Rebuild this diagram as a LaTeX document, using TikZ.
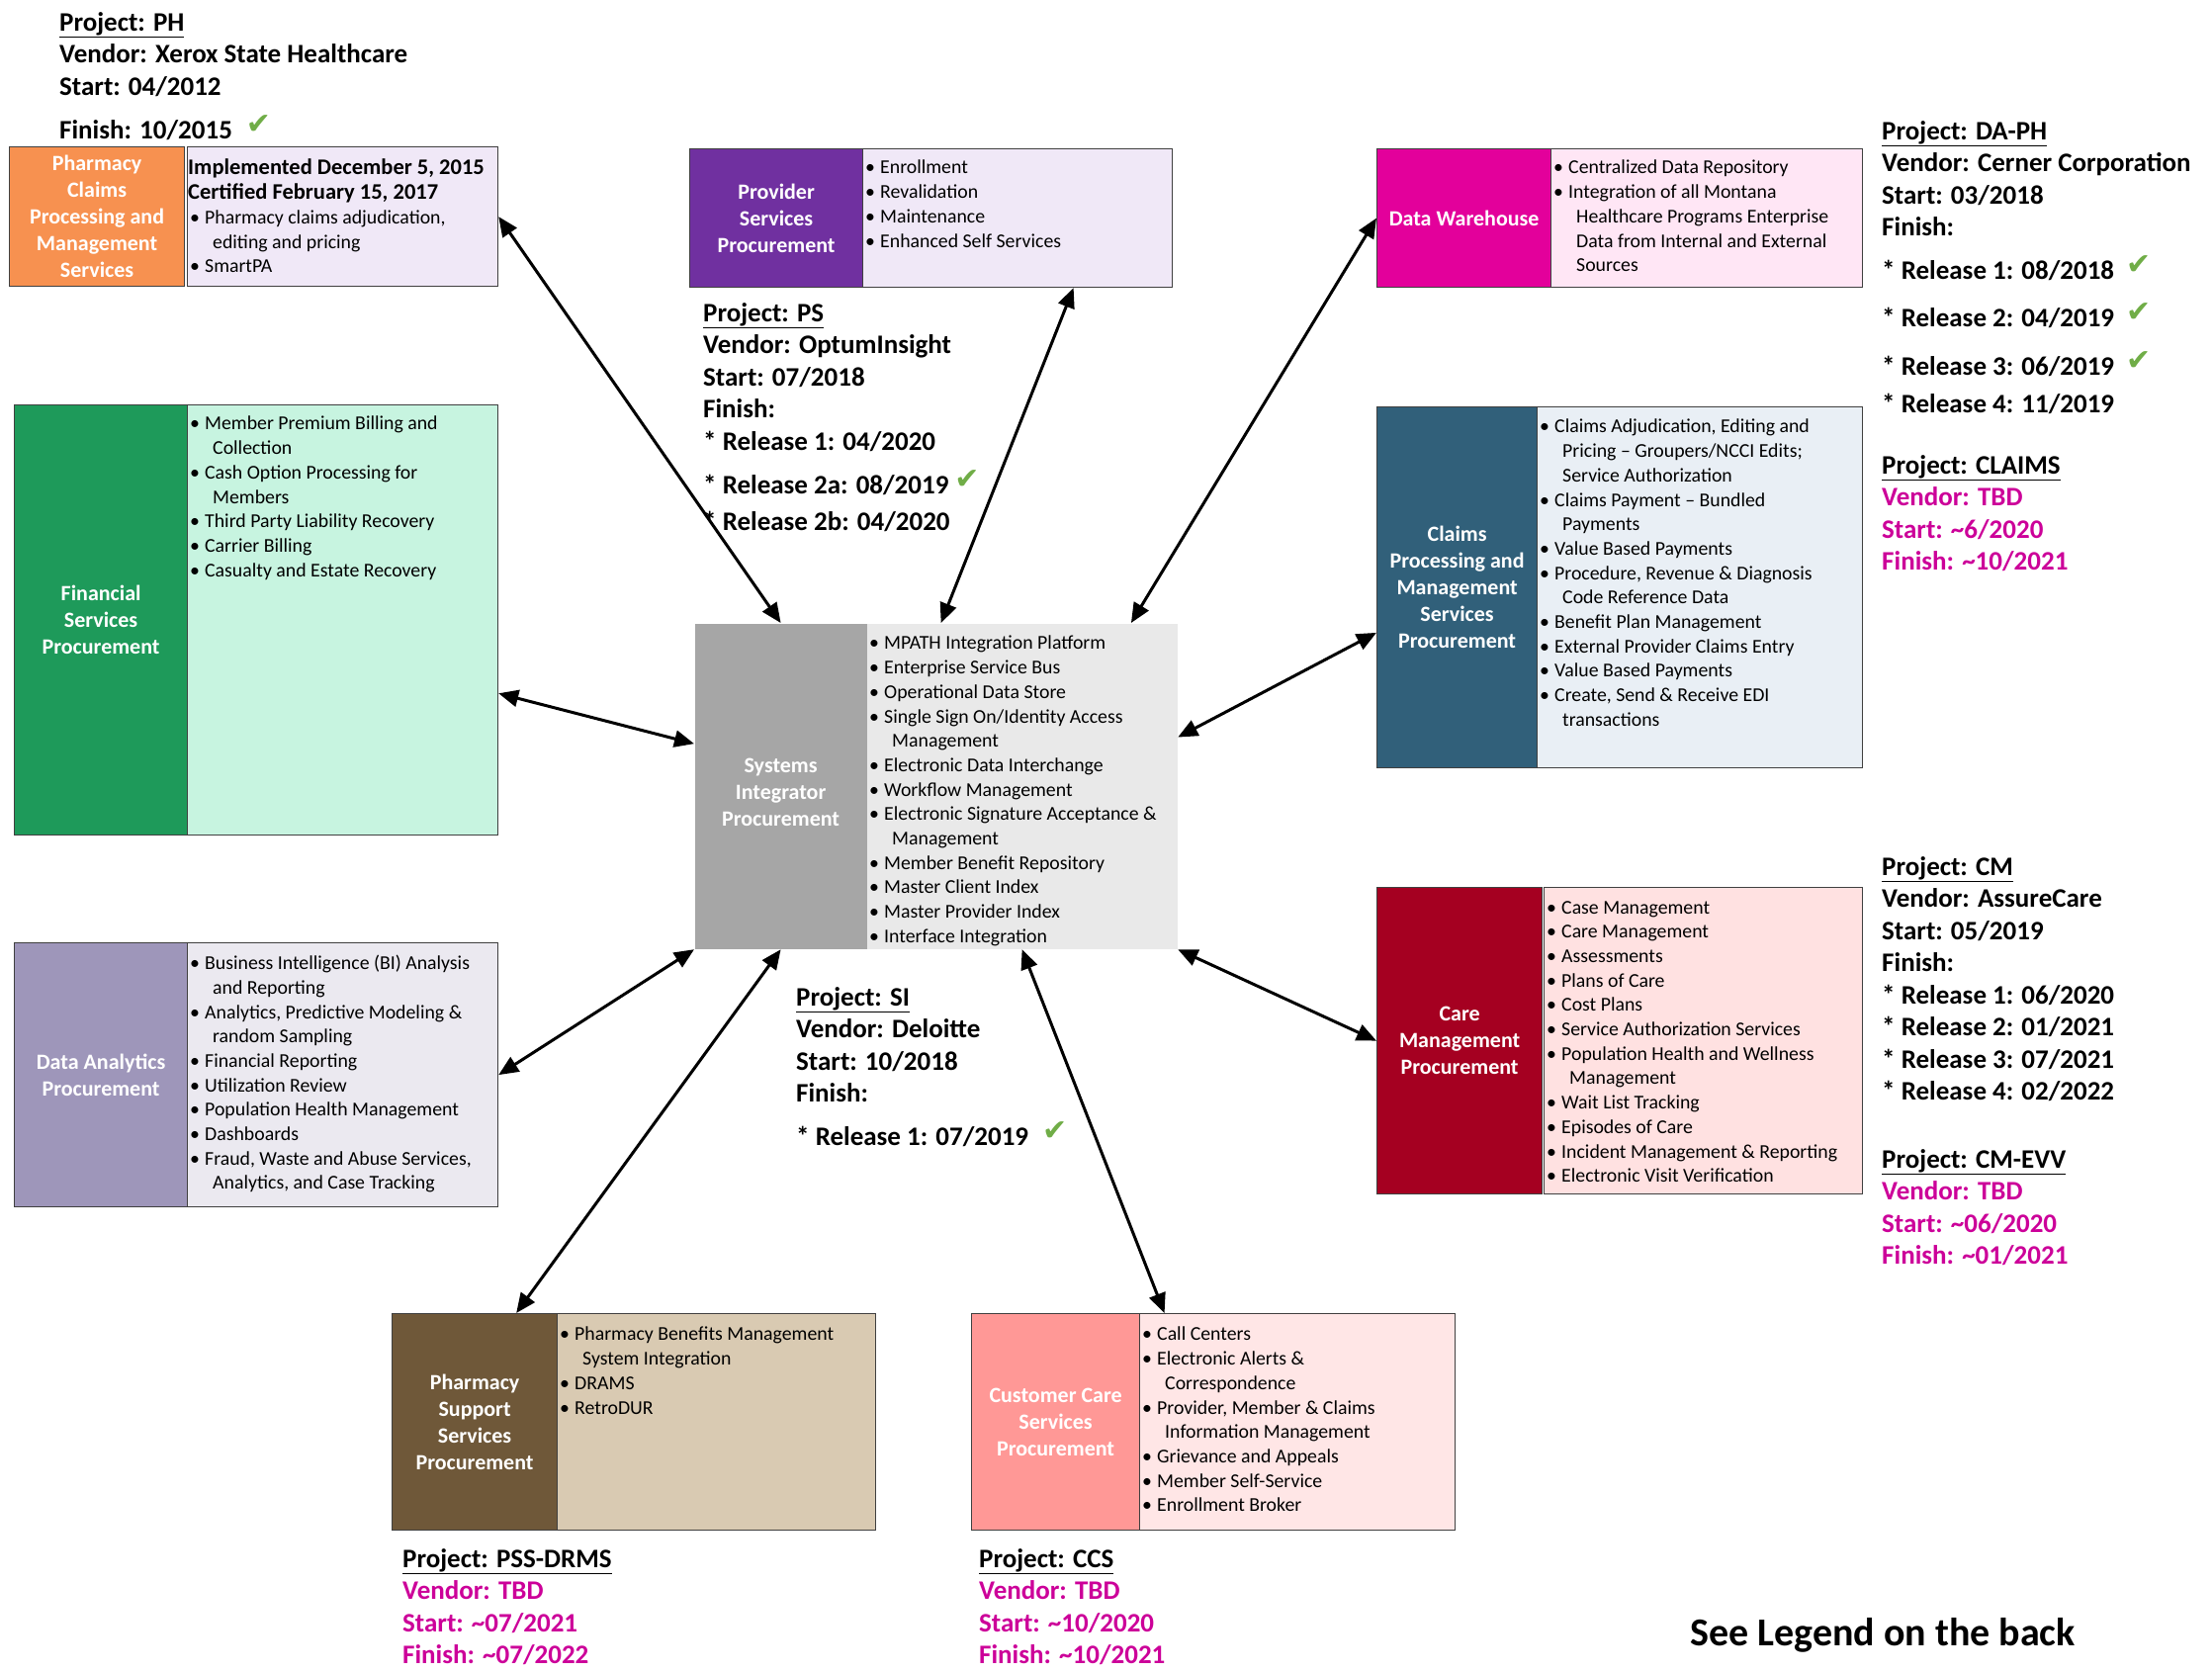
\documentclass[tikz,border=0pt]{standalone}
\usepackage{fontspec}
\setmainfont{Carlito}
\newfontfamily\checkfont{DejaVu Sans}
\usetikzlibrary{arrows.meta,calc}

% box colours (dark heading / light body)
\definecolor{phdark}{HTML}{F79150}
\definecolor{phlight}{HTML}{F0E8F7}
\definecolor{psdark}{HTML}{7030A0}
\definecolor{pslight}{HTML}{F0E8F7}
\definecolor{dwdark}{HTML}{E3009B}
\definecolor{dwlight}{HTML}{FFE6F5}
\definecolor{fsdark}{HTML}{1E9A5A}
\definecolor{fslight}{HTML}{C7F4E0}
\definecolor{sidark}{HTML}{A6A6A6}
\definecolor{silight}{HTML}{E9E9E9}
\definecolor{cldark}{HTML}{31607A}
\definecolor{cllight}{HTML}{E9EFF5}
\definecolor{cmdark}{HTML}{A50021}
\definecolor{cmlight}{HTML}{FFE1E1}
\definecolor{dadark}{HTML}{9E96BA}
\definecolor{dalight}{HTML}{EBE9F0}
\definecolor{pssdark}{HTML}{6F5839}
\definecolor{psslight}{HTML}{D9CAB2}
\definecolor{ccsdark}{HTML}{FF9896}
\definecolor{ccslight}{HTML}{FFE6E6}
\definecolor{tbd}{HTML}{CC0099}
\definecolor{okgreen}{HTML}{70AD47}

\newcommand{\listfont}{\fontsize{19.8}{24.7}\selectfont}
\newcommand{\titlefont}{\fontsize{22}{27}\selectfont\bfseries}
\newcommand{\projfont}{\fontsize{27}{32.5}\selectfont\bfseries}
\newcommand{\itm}[1]{\makebox[17pt][l]{\hspace{2pt}\textbullet}#1}
\newcommand{\cont}[1]{\makebox[25pt]{}#1}
\newcommand{\done}{\smash{\raisebox{5pt}{\fontsize{30}{30}\checkfont\color{okgreen}\symbol{"2714}}}}

\tikzset{
  head/.style={draw=black!75, line width=1.2pt, text=white, font=\titlefont,
    align=center, anchor=north west, inner sep=2pt},
  body/.style={draw=black!75, line width=1.2pt, anchor=north west},
  items/.style={anchor=north west, inner sep=0pt, align=left, font=\listfont},
  project/.style={anchor=north west, inner sep=0pt, align=left, font=\projfont},
  link/.style={{Triangle[length=20pt,width=17pt]}-{Triangle[length=20pt,width=17pt]},
    line width=3pt},
}

\begin{document}
\begin{tikzpicture}[x=1pt,y=-1pt]
  \useasboundingbox (0,0) rectangle (2237,1691);

  % Boxes
  \node[head, fill=phdark, minimum width=177pt, minimum height=141pt] (phH) at (9,148)
    {Pharmacy\\Claims\\Processing and\\Management\\Services};
  \node[body, fill=phlight, minimum width=314pt, minimum height=141pt] (phB) at (189,148) {};
  \node[head, fill=psdark, minimum width=175pt, minimum height=140pt] (psH) at (697,150)
    {Provider\\Services\\Procurement};
  \node[body, fill=pslight, minimum width=313pt, minimum height=140pt] (psB) at (872,150) {};
  \node[head, fill=dwdark, minimum width=176pt, minimum height=140pt] (dwH) at (1392,150)
    {Data Warehouse};
  \node[body, fill=dwlight, minimum width=315pt, minimum height=140pt] (dwB) at (1568,150) {};
  \node[head, fill=fsdark, minimum width=175pt, minimum height=435pt] (fsH) at (14,409)
    {Financial\\Services\\Procurement};
  \node[body, fill=fslight, minimum width=314pt, minimum height=435pt] (fsB) at (189,409) {};
  \node[head, draw=none, fill=sidark, minimum width=174pt, minimum height=329pt] (siH) at (702,630)
    {\mbox{}\\[-1pt]Systems\\Integrator\\Procurement};
  \node[body, draw=none, fill=silight, minimum width=314pt, minimum height=329pt] (siB) at (876,630) {};
  \node[head, fill=cldark, minimum width=162pt, minimum height=365pt] (clH) at (1392,411)
    {Claims\\Processing and\\Management\\Services\\Procurement};
  \node[body, fill=cllight, minimum width=329pt, minimum height=365pt] (clB) at (1554,411) {};
  \node[head, fill=cmdark, minimum width=167pt, minimum height=310pt] (cmH) at (1392,897)
    {Care\\Management\\Procurement};
  \node[body, fill=cmlight, minimum width=322pt, minimum height=310pt] (cmB) at (1561,897) {};
  \node[head, fill=dadark, minimum width=175pt, minimum height=267pt] (daH) at (14,953)
    {Data Analytics\\Procurement};
  \node[body, fill=dalight, minimum width=314pt, minimum height=267pt] (daB) at (189,953) {};
  \node[head, fill=pssdark, minimum width=167pt, minimum height=219pt] (pssH) at (396,1328)
    {Pharmacy\\Support\\Services\\Procurement};
  \node[body, fill=psslight, minimum width=322pt, minimum height=219pt] (pssB) at (563,1328) {};
  \node[head, fill=ccsdark, minimum width=170pt, minimum height=219pt] (ccsH) at (982,1328)
    {Customer Care\\Services\\Procurement};
  \node[body, fill=ccslight, minimum width=319pt, minimum height=219pt] (ccsB) at (1152,1328) {};

  % Lists
  \node[items] (phI) at ($(phB.north west)+(1,13)$)
    {{\fontsize{22.5}{27}\selectfont\bfseries Implemented December 5, 2015}\\
     {\fontsize{22.5}{27}\selectfont\bfseries Certified February 15, 2017}\\
     \itm{Pharmacy claims adjudication,}\\ \cont{editing and pricing}\\ \itm{SmartPA}};
  \node[items] (psI) at ($(psB.north west)+(1,12)$)
    {\itm{Enrollment}\\ \itm{Revalidation}\\ \itm{Maintenance}\\ \itm{Enhanced Self Services}};
  \node[items] (dwI) at ($(dwB.north west)+(1,12)$)
    {\itm{Centralized Data Repository}\\ \itm{Integration of all Montana}\\
     \cont{Healthcare Programs Enterprise}\\ \cont{Data from Internal and External}\\ \cont{Sources}};
  \node[items] (fsI) at ($(fsB.north west)+(1,12)$)
    {\itm{Member Premium Billing and}\\ \cont{Collection}\\ \itm{Cash Option Processing for}\\
     \cont{Members}\\ \itm{Third Party Liability Recovery}\\ \itm{Carrier Billing}\\
     \itm{Casualty and Estate Recovery}};
  \node[items] (siI) at ($(siB.north west)+(1,13)$)
    {\itm{MPATH Integration Platform}\\ \itm{Enterprise Service Bus}\\ \itm{Operational Data Store}\\
     \itm{Single Sign On/Identity Access}\\ \cont{Management}\\ \itm{Electronic Data Interchange}\\
     \itm{Workflow Management}\\ \itm{Electronic Signature Acceptance \&}\\ \cont{Management}\\
     \itm{Member Benefit Repository}\\ \itm{Master Client Index}\\ \itm{Master Provider Index}\\
     \itm{Interface Integration}};
  \node[items] (clI) at ($(clB.north west)+(1,13)$)
    {\itm{Claims Adjudication, Editing and}\\ \cont{Pricing -- Groupers/NCCI Edits;}\\
     \cont{Service Authorization}\\ \itm{Claims Payment -- Bundled}\\ \cont{Payments}\\
     \itm{Value Based Payments}\\ \itm{Procedure, Revenue \& Diagnosis}\\ \cont{Code Reference Data}\\
     \itm{Benefit Plan Management}\\ \itm{External Provider Claims Entry}\\ \itm{Value Based Payments}\\
     \itm{Create, Send \& Receive EDI}\\ \cont{transactions}};
  \node[items] (cmI) at ($(cmB.north west)+(1,14)$)
    {\itm{Case Management}\\ \itm{Care Management}\\ \itm{Assessments}\\ \itm{Plans of Care}\\
     \itm{Cost Plans}\\ \itm{Service Authorization Services}\\ \itm{Population Health and Wellness}\\
     \cont{Management}\\ \itm{Wait List Tracking}\\ \itm{Episodes of Care}\\
     \itm{Incident Management \& Reporting}\\ \itm{Electronic Visit Verification}};
  \node[items] (daI) at ($(daB.north west)+(1,13)$)
    {\itm{Business Intelligence (BI) Analysis}\\ \cont{and Reporting}\\
     \itm{Analytics, Predictive Modeling \&}\\ \cont{random Sampling}\\ \itm{Financial Reporting}\\
     \itm{Utilization Review}\\ \itm{Population Health Management}\\ \itm{Dashboards}\\
     \itm{Fraud, Waste and Abuse Services,}\\ \cont{Analytics, and Case Tracking}};
  \node[items] (pssI) at ($(pssB.north west)+(1,14)$)
    {\itm{Pharmacy Benefits Management}\\ \cont{System Integration}\\ \itm{DRAMS}\\ \itm{RetroDUR}};
  \node[items] (ccsI) at ($(ccsB.north west)+(1,14)$)
    {\itm{Call Centers}\\ \itm{Electronic Alerts \&}\\ \cont{Correspondence}\\
     \itm{Provider, Member \& Claims}\\ \cont{Information Management}\\ \itm{Grievance and Appeals}\\
     \itm{Member Self-Service}\\ \itm{Enrollment Broker}};

  % Projects
  \node[project] (phP) at (60,12)
    {\underline{Project: PH}\\ Vendor: Xerox State Healthcare\\ Start: 04/2012\\[11.5pt]
     Finish: 10/2015\hspace{14pt}\done};
  \node[project] (psP) at (711,306)
    {\underline{Project: PS}\\ Vendor: OptumInsight\\ Start: 07/2018\\ Finish:\\
     * Release 1: 04/2020\\[11.5pt] * Release 2a: 08/2019\hspace{6pt}\done\\[4.5pt]
     * Release 2b: 04/2020};
  \node[project] (daphP) at (1903,122)
    {\underline{Project: DA-PH}\\ Vendor: Cerner Corporation\\ Start: 03/2018\\ Finish:\\[11.5pt]
     * Release 1: 08/2018\hspace{12pt}\done\\[15.5pt] * Release 2: 04/2019\hspace{12pt}\done\\[16.5pt]
     * Release 3: 06/2019\hspace{12pt}\done\\[5.5pt] * Release 4: 11/2019};
  \node[project] (claimsP) at (1903,460)
    {\underline{Project: CLAIMS}\\ \color{tbd}Vendor: TBD\\ \color{tbd}Start: \textasciitilde6/2020\\
     \color{tbd}Finish: \textasciitilde10/2021};
  \node[project] (cmP) at (1903,866)
    {\underline{Project: CM}\\ Vendor: AssureCare\\ Start: 05/2019\\ Finish:\\
     * Release 1: 06/2020\\ * Release 2: 01/2021\\ * Release 3: 07/2021\\ * Release 4: 02/2022};
  \node[project] (evvP) at (1903,1162)
    {\underline{Project: CM-EVV}\\ \color{tbd}Vendor: TBD\\ \color{tbd}Start: \textasciitilde06/2020\\
     \color{tbd}Finish: \textasciitilde01/2021};
  \node[project] (siP) at (805,998)
    {\underline{Project: SI}\\ Vendor: Deloitte\\ Start: 10/2018\\ Finish:\\[11.5pt]
     * Release 1: 07/2019\hspace{14pt}\done};
  \node[project] (pssP) at (407,1566)
    {\underline{Project: PSS-DRMS}\\ \color{tbd}Vendor: TBD\\ \color{tbd}Start: \textasciitilde07/2021\\
     \color{tbd}Finish: \textasciitilde07/2022};
  \node[project] (ccsP) at (990,1566)
    {\underline{Project: CCS}\\ \color{tbd}Vendor: TBD\\ \color{tbd}Start: \textasciitilde10/2020\\
     \color{tbd}Finish: \textasciitilde10/2021};
  \node[anchor=base west, inner sep=0pt, font=\fontsize{40}{48}\selectfont\bfseries] (legend)
    at (1709,1664) {See Legend on the back};

  % Arrows
  \coordinate (psA) at ($(psB.south west)!0.68!(psB.south east)$);
  \coordinate (siA) at ($(siB.north west)!0.24!(siB.north east)$);
  \coordinate (siC) at ($(siB.north west)!0.85!(siB.north east)$);
  \coordinate (fsA) at ($(fsB.north east)!0.67!(fsB.south east)$);
  \coordinate (siD) at ($(siH.north west)!0.37!(siH.south west)$);
  \coordinate (clA) at ($(clH.north west)!0.625!(clH.south west)$);
  \coordinate (siE) at ($(siB.north east)!0.35!(siB.south east)$);
  \coordinate (pssA) at ($(pssH.north west)!0.75!(pssH.north east)$);
  \coordinate (ccsA) at ($(ccsB.north west)!0.08!(ccsB.north east)$);
  \foreach \from/\to in {phB.east/siH.north, psA/siA, dwH.west/siC, fsA/siD, clA/siE,
      daB.east/siH.south west, cmH.west/siB.south east, pssA/siH.south, ccsA/siB.south}
    \draw[link] (\from) -- (\to);
\end{tikzpicture}
\end{document}
